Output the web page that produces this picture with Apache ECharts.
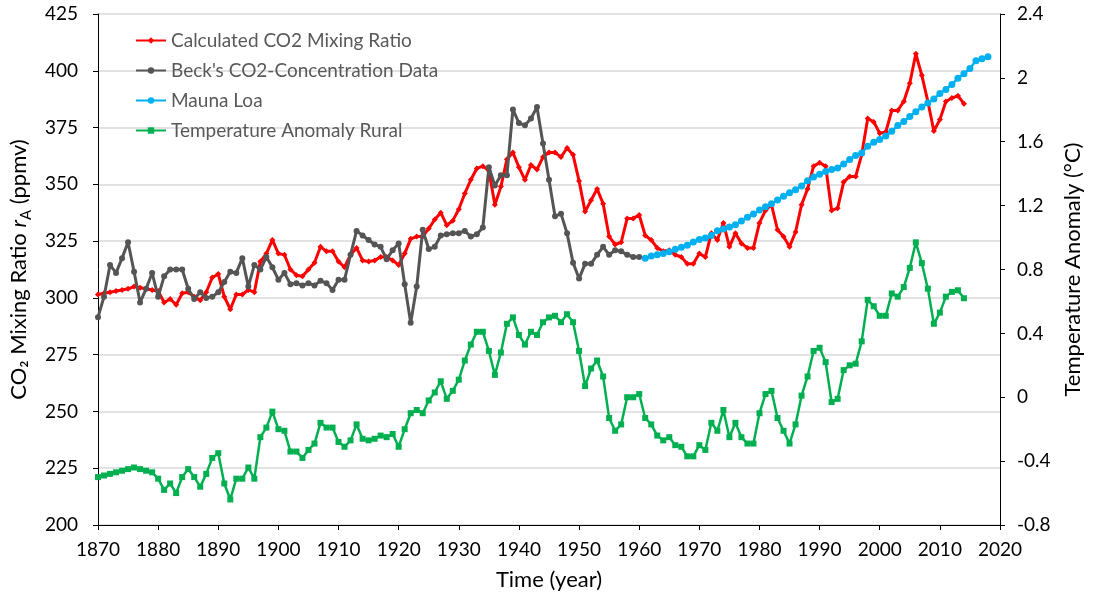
<!DOCTYPE html>
<html>
<head>
<meta charset="utf-8">
<script src="https://cdn.jsdelivr.net/npm/echarts@6/dist/echarts.min.js"></script>
<style>
  html, body { margin: 0; padding: 0; background: #fff; }
  #main { width: 1093px; height: 600px; }
</style>
</head>
<body>
<div id="main"></div>
<script>
// yearly values, first year 1870
const firstYear = 1870;

const calculatedCO2 = [
  301.5, 302, 302.5, 303, 303.5, 304, 305, 304.5, 304, 303.5,
  303, 298, 299.5, 297, 302, 302.5, 300.5, 299, 302.5, 309,
  310.5, 300.5, 295, 301.5, 301.5, 303.5, 302.5, 316, 319.5, 325.5,
  319.5, 319, 312.5, 310, 309.5, 312.5, 315.5, 322.5, 320.5, 320.5,
  316, 313.5, 319, 322, 316.5, 316, 316.5, 318, 318, 316.5,
  314.5, 319.5, 326, 327, 327, 330.5, 334.5, 337.5, 332, 334,
  339, 346, 352, 357, 358, 356, 341, 349, 361, 364,
  357.5, 352, 358.5, 356.5, 362, 364, 364, 362, 366, 363,
  351.5, 338, 343, 348, 341.5, 327, 323.5, 324.5, 335, 335,
  336.5, 327.5, 325.5, 322, 320.5, 321, 319, 318, 315, 315,
  319.5, 318, 328.5, 325.5, 333, 322.5, 328.5, 324, 322, 322,
  333, 338.5, 341, 330, 327, 322.5, 329, 341, 348, 358,
  359.5, 358, 338.5, 339.5, 351, 353.5, 353.5, 363, 379, 377.5,
  372.5, 373, 382.5, 382.5, 386.5, 394.5, 407.5, 398, 386.5, 373.5,
  378.5, 386.5, 388, 389, 385.5
];

// 1870 - 1960
const becksCO2 = [
  291.5, 300.5, 314.5, 311, 317.5, 324.5, 311.5, 298, 304, 311,
  300.5, 309.5, 312.5, 312.5, 312.5, 304, 299.5, 302.5, 300, 300.5,
  302.5, 307, 311.5, 311, 317.5, 305, 314.5, 312.5, 318, 313.5,
  308, 311, 306, 306.5, 305.5, 306.5, 305.5, 307.5, 306.5, 303.5,
  308, 308, 319, 329.5, 327.5, 325.5, 323.5, 322.5, 317, 321,
  324, 306, 289, 305, 330, 321.5, 322.5, 327.5, 328, 328.5,
  328.5, 329.5, 327, 328, 331, 357.5, 349.5, 354, 354, 383,
  377, 376, 379, 384, 368, 352, 336, 337, 328.5, 315.5,
  308.5, 315, 315, 319, 322.5, 319, 321, 320.5, 319, 318,
  318
];

const maunaLoaStart = 1961;
const maunaLoa = [
  317.4, 318.4, 319, 319.6, 320.3, 321.4, 322.3, 323.2, 324.6, 325.7,
  326.4, 327.5, 329.6, 330.3, 331.2, 332.2, 333.9, 335.5, 336.9, 338.7,
  340.1, 341.4, 343.1, 344.8, 346.3, 347.6, 349.3, 351.6, 353.2, 354.4,
  355.7, 356.5, 357.2, 358.9, 360.9, 362.7, 363.8, 366.8, 368.5, 369.7,
  371.3, 373.4, 375.9, 377.7, 379.9, 382, 384, 385.8, 387.6, 390,
  391.8, 394, 396.7, 398.7, 401, 404.4, 405.3, 406.2
];

// 1870 - 2014
const tempAnomaly = [
  -0.50, -0.49, -0.48, -0.47, -0.46, -0.45, -0.44, -0.45, -0.46, -0.47,
  -0.51, -0.58, -0.54, -0.60, -0.50, -0.45, -0.50, -0.56, -0.48, -0.38,
  -0.35, -0.54, -0.64, -0.51, -0.51, -0.44, -0.51, -0.25, -0.19, -0.09,
  -0.20, -0.21, -0.34, -0.34, -0.38, -0.33, -0.29, -0.16, -0.19, -0.19,
  -0.28, -0.31, -0.27, -0.17, -0.26, -0.27, -0.26, -0.24, -0.25, -0.23,
  -0.31, -0.20, -0.10, -0.08, -0.10, -0.02, 0.03, 0.10, -0.01, 0.04,
  0.11, 0.23, 0.33, 0.41, 0.41, 0.29, 0.14, 0.28, 0.46, 0.50,
  0.39, 0.33, 0.41, 0.39, 0.47, 0.50, 0.51, 0.47, 0.52, 0.47,
  0.29, 0.07, 0.18, 0.23, 0.13, -0.13, -0.21, -0.17, 0.00, 0.00,
  0.02, -0.13, -0.17, -0.24, -0.27, -0.25, -0.30, -0.31, -0.37, -0.37,
  -0.30, -0.33, -0.16, -0.21, -0.08, -0.25, -0.16, -0.25, -0.29, -0.29,
  -0.10, 0.02, 0.04, -0.13, -0.21, -0.29, -0.17, 0.01, 0.13, 0.29,
  0.31, 0.22, -0.03, -0.01, 0.17, 0.20, 0.21, 0.35, 0.61, 0.57,
  0.51, 0.51, 0.65, 0.63, 0.69, 0.81, 0.97, 0.84, 0.68, 0.46,
  0.53, 0.63, 0.66, 0.67, 0.62
];

const seriesNames = [
  'Calculated CO2 Mixing Ratio',
  "Beck's CO2-Concentration Data",
  'Mauna Loa',
  'Temperature Anomaly Rural'
];

function byYear(start, values) {
  return values.map((v, i) => [start + i, v]);
}

const font = 'Lato, "Open Sans", sans-serif';

let myChart = echarts.init(document.getElementById('main'));
let option = {
  animation: false,
  textStyle: { fontFamily: font },
  grid: { left: 97, right: 93, top: 14, bottom: 75 },
  legend: {
    orient: 'vertical',
    left: 130,
    top: 26,
    itemWidth: 30,
    itemHeight: 8,
    itemGap: 11,
    textStyle: { color: '#595959', fontSize: 19, fontFamily: font },
    data: seriesNames
  },
  xAxis: {
    type: 'value',
    min: 1870,
    max: 2020,
    interval: 10,
    name: 'Time (year)',
    nameLocation: 'middle',
    nameGap: 44,
    nameTextStyle: { color: '#000', fontSize: 22 },
    axisLine: { onZero: false, lineStyle: { color: '#000', width: 1 } },
    axisTick: { show: true, length: 5, lineStyle: { color: '#000' } },
    axisLabel: { color: '#000', fontSize: 19, margin: 15, formatter: v => String(v) },
    splitLine: { show: false }
  },
  yAxis: [
    {
      type: 'value',
      min: 200,
      max: 425,
      interval: 25,
      name: '{t|CO₂ Mixing Ratio }{i|r}{s|A}{t| (ppmv)}',
      nameLocation: 'middle',
      nameGap: 64,
      nameTextStyle: {
        color: '#000',
        fontSize: 22,
        rich: {
          t: { fontSize: 22, color: '#000', fontFamily: font },
          i: { fontSize: 22, color: '#000', fontStyle: 'italic', fontFamily: font },
          s: { fontSize: 15, color: '#000', fontFamily: font, verticalAlign: 'bottom', lineHeight: 30 }
        }
      },
      axisLine: { show: true, onZero: false, lineStyle: { color: '#000', width: 1 } },
      axisTick: { show: true, length: 5, lineStyle: { color: '#000' } },
      axisLabel: { color: '#000', fontSize: 19, margin: 20 },
      splitLine: { show: true, lineStyle: { color: '#d9d9d9', width: 1.5 } }
    },
    {
      type: 'value',
      min: -0.8,
      max: 2.4,
      interval: 0.4,
      name: 'Temperature Anomaly (°C)',
      nameLocation: 'middle',
      nameGap: 62,
      nameRotate: 90,
      nameTextStyle: { color: '#000', fontSize: 22 },
      axisLine: { show: true, onZero: false, lineStyle: { color: '#000', width: 1 } },
      axisTick: { show: true, length: 5, lineStyle: { color: '#000' } },
      axisLabel: {
        color: '#000',
        fontSize: 19,
        margin: 17,
        formatter: v => String(Math.round(v * 10) / 10)
      },
      splitLine: { show: false }
    }
  ],
  series: [
    {
      name: seriesNames[0],
      type: 'line',
      data: byYear(firstYear, calculatedCO2),
      symbol: 'diamond',
      symbolSize: 6,
      itemStyle: { color: '#ff0000' },
      lineStyle: { color: '#ff0000', width: 3 },
      z: 2
    },
    {
      name: seriesNames[1],
      type: 'line',
      data: byYear(firstYear, becksCO2),
      symbol: 'circle',
      symbolSize: 6,
      itemStyle: { color: '#555555' },
      lineStyle: { color: '#555555', width: 3 },
      z: 3
    },
    {
      name: seriesNames[2],
      type: 'line',
      data: byYear(maunaLoaStart, maunaLoa),
      symbol: 'circle',
      symbolSize: 7,
      itemStyle: { color: '#00b0f0' },
      lineStyle: { color: '#00b0f0', width: 2.5 },
      z: 4
    },
    {
      name: seriesNames[3],
      type: 'line',
      yAxisIndex: 1,
      data: byYear(firstYear, tempAnomaly),
      symbol: 'rect',
      symbolSize: 6,
      itemStyle: { color: '#00b050' },
      lineStyle: { color: '#00b050', width: 2.5 },
      z: 5
    }
  ]
};
myChart.setOption(option);
</script>
</body>
</html>
